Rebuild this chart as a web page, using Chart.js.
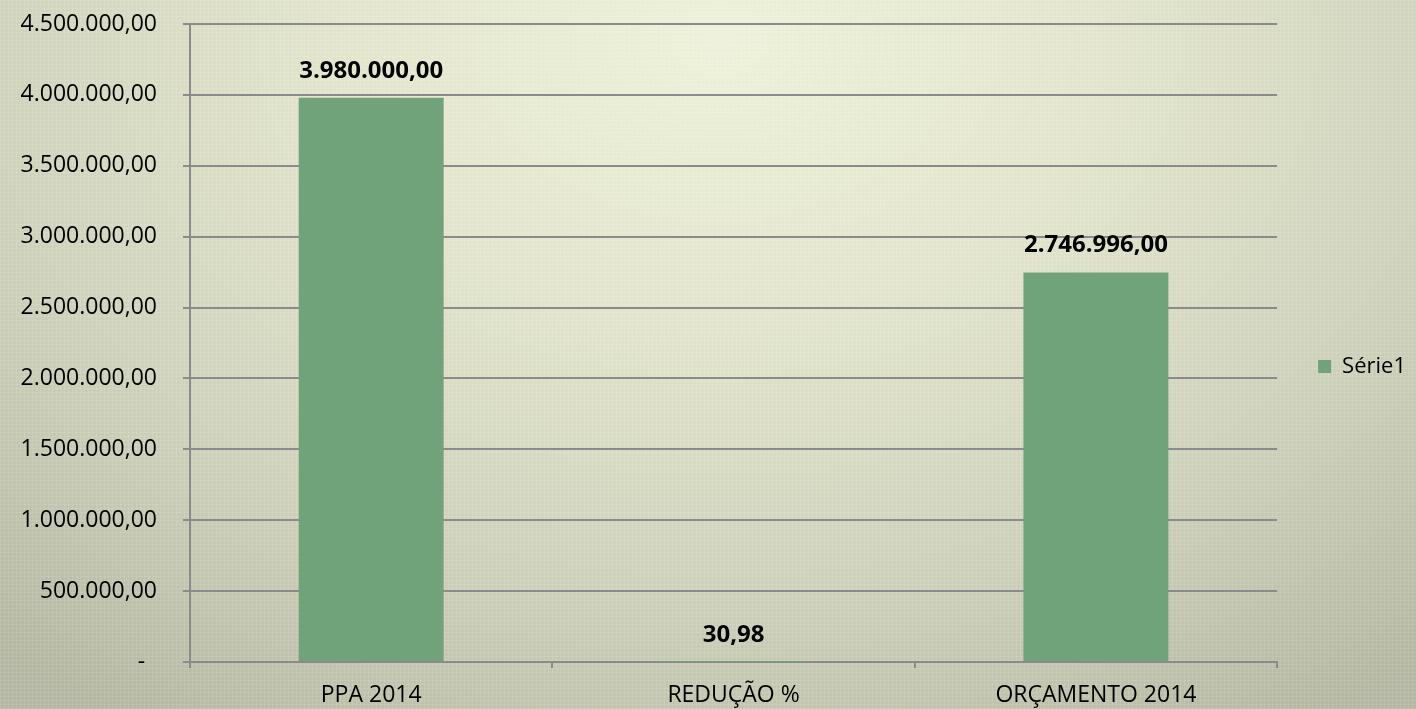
<!DOCTYPE html>
<html>
<head>
<meta charset="utf-8">
<script src="https://cdn.jsdelivr.net/npm/chart.js@4.4.1/dist/chart.umd.min.js"></script>
<style>
  html, body { margin: 0; padding: 0; }
  body {
    width: 1416px;
    height: 709px;
    overflow: hidden;
    background:
      repeating-linear-gradient(90deg, rgba(255,255,255,0.10) 0 1px, transparent 1px 4px),
      repeating-linear-gradient(0deg, rgba(255,255,255,0.10) 0 1px, transparent 1px 4px),
      radial-gradient(ellipse 1100px 800px at 720px 40px, #eef1d9 0%, #e2e5cb 35%, #cdd0b9 70%, #b4b7a1 100%);
  }
  #wrap { position: relative; width: 1416px; height: 709px; }
</style>
</head>
<body>
<div id="wrap"><canvas id="myChart" width="1416" height="709"></canvas></div>
<script>
const categorias = ["PPA 2014", "REDUÇÃO %", "ORÇAMENTO 2014"];
const serie1 = [3980000, 30.98, 2746996];
const nomeSerie = "Série1";
const rotulosY = [
  "-  ",
  "500.000,00",
  "1.000.000,00",
  "1.500.000,00",
  "2.000.000,00",
  "2.500.000,00",
  "3.000.000,00",
  "3.500.000,00",
  "4.000.000,00",
  "4.500.000,00",
];

// formato brasileiro: 1.234.567,89
const formatar = (v) => {
  let partes = v.toFixed(2).split(".");
  let inteiro = partes[0].replace(/\B(?=(\d{3})+(?!\d))/g, ".");
  return inteiro + "," + partes[1];
};

const corGrade = "#8b8b8b";
const fonte = '"Open Sans", "Liberation Sans", sans-serif';

const rotulosDados = {
  id: "rotulosDados",
  afterDatasetsDraw(chart) {
    const ctx = chart.ctx;
    const meta = chart.getDatasetMeta(0);
    ctx.save();
    ctx.font = "bold 24px " + fonte;
    ctx.fillStyle = "#000";
    ctx.textAlign = "center";
    ctx.textBaseline = "middle";
    meta.data.forEach((bar, i) => {
      ctx.fillText(formatar(serie1[i]), bar.x, bar.y - 27);
    });
    ctx.restore();
  },
};

const ctx = document.getElementById("myChart");
const chart = new Chart(ctx, {
  type: "bar",
  data: {
    labels: categorias,
    datasets: [
      {
        label: nomeSerie,
        data: serie1,
        backgroundColor: "#70a37a",
        borderWidth: 0,
        barPercentage: 0.4,
        categoryPercentage: 1,
      },
    ],
  },
  options: {
    responsive: false,
    animation: false,
    devicePixelRatio: 1,
    layout: {
      padding: { top: 24, right: 0, bottom: 0, left: 0 },
    },
    scales: {
      y: {
        min: 0,
        max: 4500000,
        ticks: {
          stepSize: 500000,
          color: "#000",
          font: { family: fonte, size: 23 },
          padding: 26,
          callback: (v, i) => rotulosY[i],
        },
        grid: {
          color: corGrade,
          lineWidth: 2,
          tickLength: 7,
        },
        border: { display: true, color: corGrade, width: 2 },
        afterFit: (s) => {
          s.width = 190;
          s.paddingTop = 0;
          s.paddingBottom = 0;
        },
      },
      x: {
        ticks: {
          color: "#000",
          font: { family: fonte, size: 23 },
          padding: 14,
        },
        grid: {
          offset: true,
          drawOnChartArea: false,
          drawTicks: true,
          tickLength: 6,
          color: corGrade,
          lineWidth: 2,
        },
        border: { display: true, color: corGrade, width: 2 },
        afterFit: (s) => {
          s.height = 47;
        },
      },
    },
    plugins: {
      legend: {
        position: "right",
        labels: {
          boxWidth: 13,
          boxHeight: 13,
          color: "#000",
          font: { family: fonte, size: 22 },
          padding: 41,
        },
      },
      tooltip: { enabled: false },
    },
  },
  plugins: [rotulosDados],
});
</script>
</body>
</html>
